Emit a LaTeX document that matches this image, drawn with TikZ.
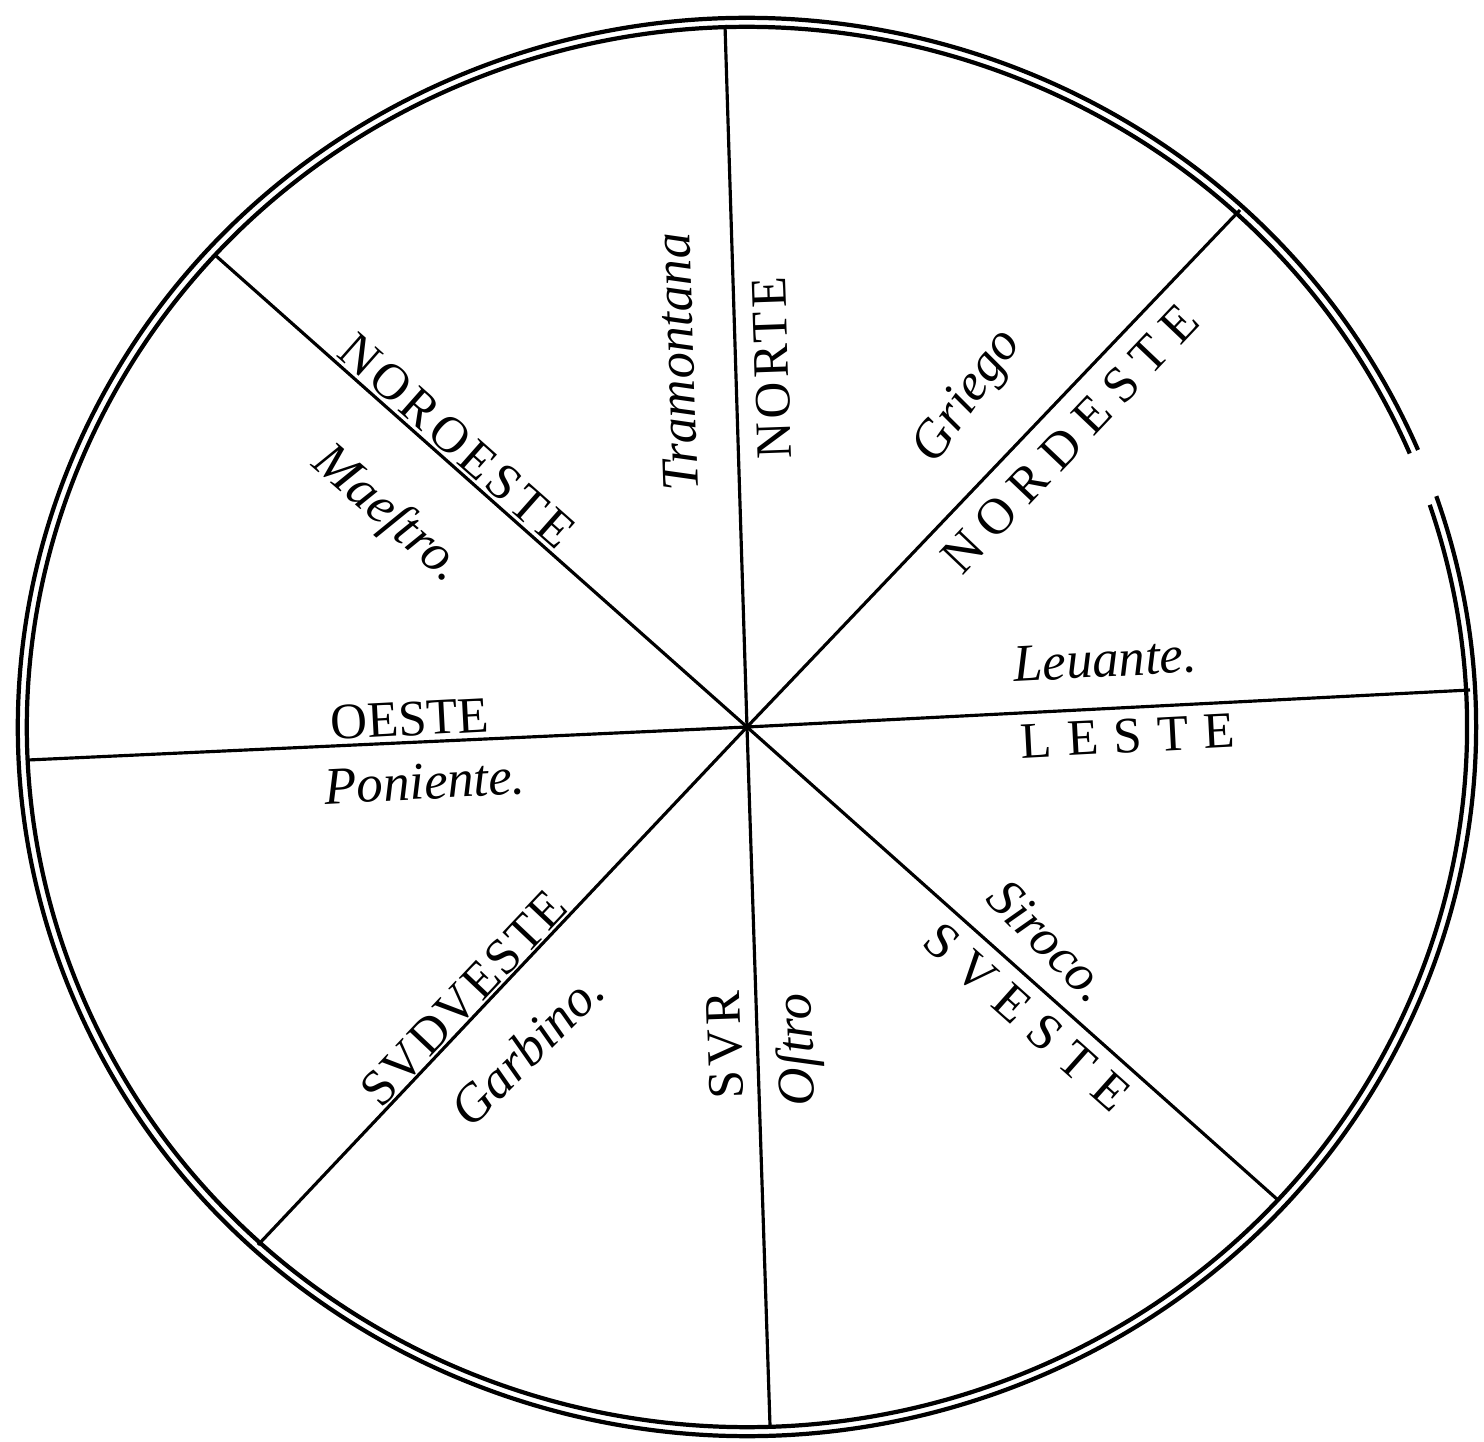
\documentclass[tikz,border=0pt]{standalone}
\usepackage{fontspec}
\setmainfont{Liberation Serif}
\newfontfamily\capsfont{Liberation Serif}

\begin{document}
\begin{tikzpicture}[x=0.01cm,y=0.01cm,
  every node/.style={inner sep=0pt},
  rim/.style={line width=1.2pt},
  spoke/.style={line width=.9pt},
  caps/.style={font=\capsfont\fontsize{14.5}{15}\selectfont\addfontfeature{LetterSpace=#1}},
  caps/.default=8,
  wind/.style={font=\itshape\fontsize{15}{16}\selectfont}]
\useasboundingbox (-747,-715) rectangle (737,727);
\coordinate (c) at (0,0);
\coordinate (n) at (-22,702);
\coordinate (ne) at (493,517);
\coordinate (e) at (723,37);
\coordinate (se) at (531,-473);
\coordinate (s) at (23,-698);
\coordinate (sw) at (-489,-518);
\coordinate (w) at (-719,-33);
\coordinate (nw) at (-532,472);
% double rim, broken on the right
\draw[rim] (23:729 and 709) arc[start angle=23,end angle=379,x radius=729,y radius=709];
\draw[rim] (23:720 and 700) arc[start angle=23,end angle=378.5,x radius=720,y radius=700];
\draw[spoke] (n)--(c)--(s);
\draw[spoke] (ne)--(c)--(sw);
\draw[spoke] (e)--(c)--(w);
\draw[spoke] (nw)--(c)--(se);
\node[caps=8,rotate=92] (norte) at (25,359) {NORTE};
\node[wind,rotate=92] (tramontana) at (-70,365) {Tramontana};
\node[caps=23,rotate=46.5] (nordeste) at (323,288) {NORDESTE};
\node[wind,rotate=55] (griego) at (222,330) {Griego};
\node[wind,rotate=3] (leuante) at (358,67) {Leuante.};
\node[caps=30,rotate=3] (leste) at (381,-9) {LESTE};
\node[caps=0,rotate=3] (oeste) at (-337,8) {OESTE};
\node[wind,rotate=3] (poniente) at (-322,-55) {Poniente.};
\node[caps=8,rotate=-41.5] (noroeste) at (-290,286) {NOROESTE};
\node[wind,rotate=-41] (maestro) at (-360,212) {Maeſtro.};
\node[caps=4,rotate=46.6] (sudueste) at (-283,-271) {SVDVESTE};
\node[wind,rotate=45] (garbino) at (-220,-322) {Garbino.};
\node[caps=9,rotate=92] (sur) at (-22,-318) {SVR};
\node[wind,rotate=92] (ostro) at (53,-323) {Oſtro};
\node[caps=27,rotate=-41.7] (sveste) at (280,-290) {SVESTE};
\node[wind,rotate=-45] (siroco) at (302,-214) {Siroco.};
\end{tikzpicture}
\end{document}
